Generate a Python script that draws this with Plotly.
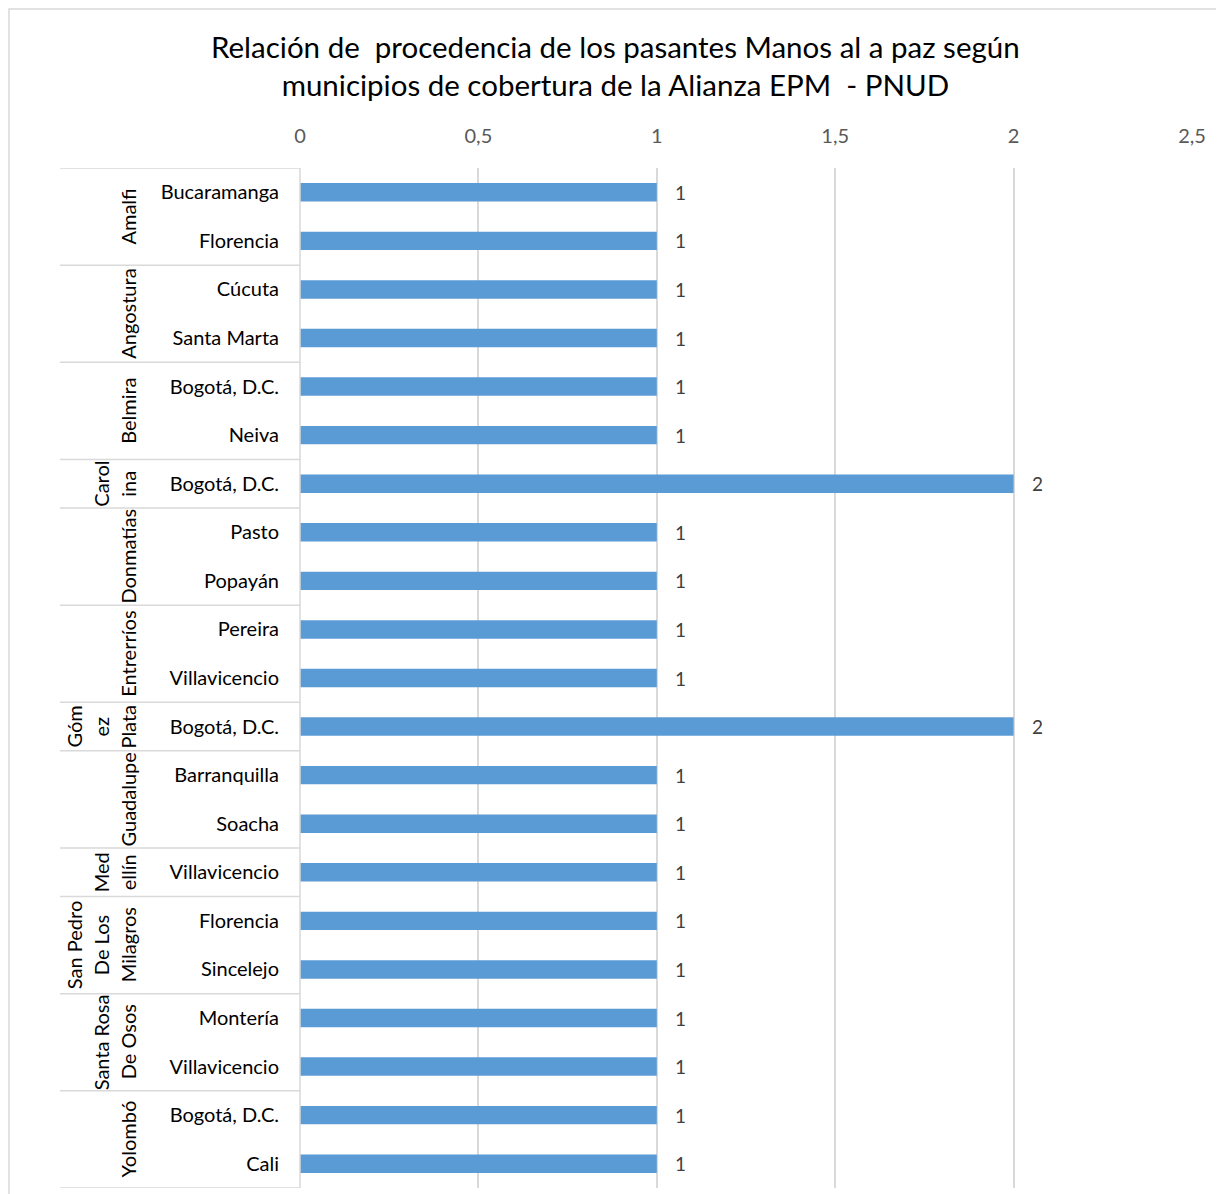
import plotly.graph_objects as go

municipio = ["Amalfi", "Amalfi", "Angostura", "Angostura", "Belmira", "Belmira",
             "Carolina", "Donmatías", "Donmatías", "Entrerríos", "Entrerríos",
             "Gómez Plata", "Guadalupe", "Guadalupe", "Medellín",
             "San Pedro De Los Milagros", "San Pedro De Los Milagros",
             "Santa Rosa De Osos", "Santa Rosa De Osos", "Yolombó", "Yolombó"]
ciudad = ["Bucaramanga", "Florencia", "Cúcuta", "Santa Marta", "Bogotá, D.C.", "Neiva",
          "Bogotá, D.C.", "Pasto", "Popayán", "Pereira", "Villavicencio",
          "Bogotá, D.C.", "Barranquilla", "Soacha", "Villavicencio",
          "Florencia", "Sincelejo", "Montería", "Villavicencio", "Bogotá, D.C.", "Cali"]
valores = [1, 1, 1, 1, 1, 1, 2, 1, 1, 1, 1, 2, 1, 1, 1, 1, 1, 1, 1, 1, 1]

# wrapped display of group labels (as in the original)
etiquetas_grupo = {
    "Amalfi": ["Amalfi"],
    "Angostura": ["Angostura"],
    "Belmira": ["Belmira"],
    "Carolina": ["Carol", "ina"],
    "Donmatías": ["Donmatías"],
    "Entrerríos": ["Entrerríos"],
    "Gómez Plata": ["Góm", "ez", "Plata"],
    "Guadalupe": ["Guadalupe"],
    "Medellín": ["Med", "ellín"],
    "San Pedro De Los Milagros": ["San Pedro", "De Los", "Milagros"],
    "Santa Rosa De Osos": ["Santa Rosa", "De Osos"],
    "Yolombó": ["Yolombó"],
}
ticks_x = [0, 0.5, 1, 1.5, 2, 2.5]

titulo = ("Relación de  procedencia de los pasantes Manos al a paz según<br>"
          "municipios de cobertura de la Alianza EPM  - PNUD")

FONT = "Lato"
OFF = 8  # page margin of the browser
W, H = 1216, 1186
# plot area in screenshot pixels: x 300..1192, y 168..1188
L = 300 - OFF
T = 168 - OFF
R = W - (1192 - OFF)
B = H - (1188 - OFF)
pw, ph = W - L - R, H - T - B

def px_to_paper_x(px):
    return (px - OFF - L) / pw

def px_to_paper_y(py):
    return (H - B - (py - OFF)) / ph

idx = list(range(len(valores)))

fig = go.Figure()
fig.add_trace(go.Bar(
    x=valores, y=idx, orientation="h",
    marker=dict(color="#5B9BD5", line=dict(width=0)),
    width=0.38, hoverinfo="skip",
))

annotations = []
# title
annotations.append(dict(x=px_to_paper_x(615), y=px_to_paper_y(66), xref="paper", yref="paper",
                        text=titulo, showarrow=False, xanchor="center", yanchor="middle",
                        align="center",
                        font=dict(family=FONT, size=29.5, color="#000000")))
# data labels
for i, v in zip(idx, valores):
    annotations.append(dict(x=v, y=i, xref="x", yref="y", text=str(v),
                            showarrow=False, xanchor="left", xshift=16,
                            font=dict(family=FONT, size=19, color="#404040")))

# group labels and separators
shapes = []
groups = []
for i, m in enumerate(municipio):
    if not groups or groups[-1][0] != m:
        groups.append([m, i, i])
    else:
        groups[-1][2] = i

x_left = px_to_paper_x(60)
shapes.append(dict(type="line", xref="paper", yref="y", x0=x_left, x1=0,
                   y0=-0.5, y1=-0.5, line=dict(color="#D9D9D9", width=1.5)))
for m, a, b in groups:
    shapes.append(dict(type="line", xref="paper", yref="y", x0=x_left, x1=0,
                       y0=b + 0.5, y1=b + 0.5, line=dict(color="#D9D9D9", width=1.5)))
    lines = etiquetas_grupo[m]
    n = len(lines)
    yc = (a + b) / 2
    for k, t in enumerate(lines):
        xp = 128 - (n - 1 - k) * 27
        annotations.append(dict(x=px_to_paper_x(xp), y=yc, xref="paper", yref="y",
                                text=t, showarrow=False, textangle=-90,
                                xanchor="center", yanchor="middle",
                                font=dict(family=FONT, size=20, color="#000000")))

# axis line at the left of the plot area
shapes.append(dict(type="line", xref="paper", yref="paper", x0=0, x1=0, y0=0, y1=1,
                   line=dict(color="#D9D9D9", width=1.5)))
# outer chart border
shapes.append(dict(type="rect", xref="paper", yref="paper",
                   x0=px_to_paper_x(9), x1=px_to_paper_x(1221),
                   y0=px_to_paper_y(1196), y1=px_to_paper_y(9),
                   line=dict(color="#D9D9D9", width=1.5), fillcolor="rgba(0,0,0,0)"))

fig.update_layout(
    width=W, height=H,
    margin=dict(l=L, r=R, t=T, b=B, pad=0),
    paper_bgcolor="white", plot_bgcolor="white",
    separators=",.",
    showlegend=False,
    xaxis=dict(side="top", range=[0, 2.5], tickvals=ticks_x,
               showgrid=True, gridcolor="#D9D9D9", gridwidth=1.5,
               zeroline=False, showline=False, ticks="",
               tickfont=dict(family=FONT, size=20, color="#595959"),
               ticklabelstandoff=20, fixedrange=True),
    yaxis=dict(range=[20.5, -0.5], tickvals=idx, ticktext=ciudad,
               showgrid=False, zeroline=False, showline=False, ticks="",
               tickfont=dict(family=FONT, size=20, color="#000000"),
               ticklabelstandoff=20, fixedrange=True),
    annotations=annotations,
    shapes=shapes,
)

fig.write_html("out.html")
